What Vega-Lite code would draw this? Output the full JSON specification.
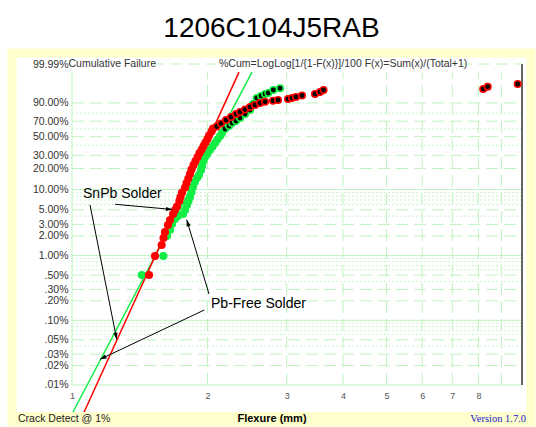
{
  "$schema": "https://vega.github.io/schema/vega-lite/v6.json",
  "width": 519,
  "height": 369,
  "autosize": {"type": "none"},
  "padding": {"left": 12, "top": 53, "right": 5, "bottom": 5},
  "background": "#ffffff",
  "config": {"view": {"fill": "#ffffff", "stroke": "#ffffcc", "strokeWidth": 9}, "font": "Liberation Sans"},
  "title": {"text": "1206C104J5RAB", "fontSize": 28, "fontWeight": "normal", "font": "Liberation Sans", "color": "#000000", "anchor": "middle", "frame": "group", "offset": 10},
  "datasets": {
    "band": [{"flexure": 0.7356, "flexure2": 10.47, "wy": -10.172, "wy2": -10.528}],
    "grid": [
      {"flexure": 1, "flexure2": 10, "wy": -2.2504, "wy2": -2.2504, "level": "decade"},
      {"flexure": 1, "flexure2": 10, "wy": -4.6002, "wy2": -4.6002, "level": "decade"},
      {"flexure": 1, "flexure2": 10, "wy": -6.9073, "wy2": -6.9073, "level": "decade"},
      {"flexure": 1, "flexure2": 10, "wy": -9.2103, "wy2": -9.2103, "level": "decade"},
      {"flexure": 1, "flexure2": 1, "wy": -9.2103, "wy2": 1.933, "level": "decade"},
      {"flexure": 1, "flexure2": 10, "wy": 0.834, "wy2": 0.834, "level": "major"},
      {"flexure": 1, "flexure2": 10, "wy": 0.1856, "wy2": 0.1856, "level": "major"},
      {"flexure": 1, "flexure2": 10, "wy": -0.3665, "wy2": -0.3665, "level": "major"},
      {"flexure": 1, "flexure2": 10, "wy": -1.0309, "wy2": -1.0309, "level": "major"},
      {"flexure": 1, "flexure2": 10, "wy": -1.4999, "wy2": -1.4999, "level": "major"},
      {"flexure": 1, "flexure2": 10, "wy": -2.9702, "wy2": -2.9702, "level": "major"},
      {"flexure": 1, "flexure2": 10, "wy": -3.4914, "wy2": -3.4914, "level": "major"},
      {"flexure": 1, "flexure2": 10, "wy": -3.9019, "wy2": -3.9019, "level": "major"},
      {"flexure": 1, "flexure2": 10, "wy": -5.2958, "wy2": -5.2958, "level": "major"},
      {"flexure": 1, "flexure2": 10, "wy": -5.8076, "wy2": -5.8076, "level": "major"},
      {"flexure": 1, "flexure2": 10, "wy": -6.2136, "wy2": -6.2136, "level": "major"},
      {"flexure": 1, "flexure2": 10, "wy": -7.6006, "wy2": -7.6006, "level": "major"},
      {"flexure": 1, "flexure2": 10, "wy": -8.1115, "wy2": -8.1115, "level": "major"},
      {"flexure": 1, "flexure2": 10, "wy": -8.5171, "wy2": -8.5171, "level": "major"},
      {"flexure": 1.506, "flexure2": 2.089, "wy": 2.2203, "wy2": 2.2203, "level": "major"},
      {"flexure": 7.28, "flexure2": 10, "wy": 2.2203, "wy2": 2.2203, "level": "major"},
      {"flexure": 2, "flexure2": 2, "wy": -9.2103, "wy2": 1.933, "level": "major"},
      {"flexure": 3, "flexure2": 3, "wy": -9.2103, "wy2": 1.933, "level": "major"},
      {"flexure": 4, "flexure2": 4, "wy": -9.2103, "wy2": 1.933, "level": "major"},
      {"flexure": 5, "flexure2": 5, "wy": -9.2103, "wy2": 1.933, "level": "major"},
      {"flexure": 6, "flexure2": 6, "wy": -9.2103, "wy2": 1.933, "level": "major"},
      {"flexure": 7, "flexure2": 7, "wy": -9.2103, "wy2": 1.933, "level": "major"},
      {"flexure": 8, "flexure2": 8, "wy": -9.2103, "wy2": 1.933, "level": "major"},
      {"flexure": 9, "flexure2": 9, "wy": -9.2103, "wy2": 1.933, "level": "major"},
      {"flexure": 1, "flexure2": 10, "wy": 0.4759, "wy2": 0.4759, "level": "minor"},
      {"flexure": 1, "flexure2": 10, "wy": -0.0874, "wy2": -0.0874, "level": "minor"},
      {"flexure": 1, "flexure2": 10, "wy": -0.6717, "wy2": -0.6717, "level": "minor"},
      {"flexure": 1, "flexure2": 10, "wy": -2.3612, "wy2": -2.3612, "level": "minor"},
      {"flexure": 1, "flexure2": 10, "wy": -2.4843, "wy2": -2.4843, "level": "minor"},
      {"flexure": 1, "flexure2": 10, "wy": -2.6232, "wy2": -2.6232, "level": "minor"},
      {"flexure": 1, "flexure2": 10, "wy": -2.7826, "wy2": -2.7826, "level": "minor"},
      {"flexure": 1, "flexure2": 10, "wy": -3.1985, "wy2": -3.1985, "level": "minor"},
      {"flexure": 1, "flexure2": 10, "wy": -4.706, "wy2": -4.706, "level": "minor"},
      {"flexure": 1, "flexure2": 10, "wy": -4.8244, "wy2": -4.8244, "level": "minor"},
      {"flexure": 1, "flexure2": 10, "wy": -4.9582, "wy2": -4.9582, "level": "minor"},
      {"flexure": 1, "flexure2": 10, "wy": -5.113, "wy2": -5.113, "level": "minor"},
      {"flexure": 1, "flexure2": 10, "wy": -5.5194, "wy2": -5.5194, "level": "minor"},
      {"flexure": 1, "flexure2": 10, "wy": -7.0127, "wy2": -7.0127, "level": "minor"},
      {"flexure": 1, "flexure2": 10, "wy": -7.1305, "wy2": -7.1305, "level": "minor"},
      {"flexure": 1, "flexure2": 10, "wy": -7.264, "wy2": -7.264, "level": "minor"},
      {"flexure": 1, "flexure2": 10, "wy": -7.4182, "wy2": -7.4182, "level": "minor"},
      {"flexure": 1, "flexure2": 10, "wy": -7.824, "wy2": -7.824, "level": "minor"}
    ],
    "fits": [
      {"solder": "Pb-Free", "flexure": 1.005, "wy": -10.172},
      {"solder": "Pb-Free", "flexure": 2.512, "wy": 1.933},
      {"solder": "SnPb", "flexure": 1.064, "wy": -10.172},
      {"solder": "SnPb", "flexure": 2.35, "wy": 1.933}
    ],
    "points": [
      {"solder": "Pb-Free", "phase": "main", "flexure": 1.429, "wy": -5.293},
      {"solder": "Pb-Free", "phase": "main", "flexure": 1.596, "wy": -4.616},
      {"solder": "Pb-Free", "phase": "main", "flexure": 1.626, "wy": -3.904},
      {"solder": "Pb-Free", "phase": "main", "flexure": 1.651, "wy": -3.69},
      {"solder": "Pb-Free", "phase": "main", "flexure": 1.668, "wy": -3.477},
      {"solder": "Pb-Free", "phase": "main", "flexure": 1.694, "wy": -3.299},
      {"solder": "Pb-Free", "phase": "main", "flexure": 1.72, "wy": -3.192},
      {"solder": "Pb-Free", "phase": "main", "flexure": 1.765, "wy": -3.121},
      {"solder": "Pb-Free", "phase": "main", "flexure": 1.783, "wy": -2.978},
      {"solder": "Pb-Free", "phase": "main", "flexure": 1.801, "wy": -2.8},
      {"solder": "Pb-Free", "phase": "main", "flexure": 1.815, "wy": -2.658},
      {"solder": "Pb-Free", "phase": "main", "flexure": 1.829, "wy": -2.515},
      {"solder": "Pb-Free", "phase": "main", "flexure": 1.843, "wy": -2.337},
      {"solder": "Pb-Free", "phase": "main", "flexure": 1.857, "wy": -2.159},
      {"solder": "Pb-Free", "phase": "main", "flexure": 1.876, "wy": -1.981},
      {"solder": "Pb-Free", "phase": "main", "flexure": 1.896, "wy": -1.839},
      {"solder": "Pb-Free", "phase": "main", "flexure": 1.915, "wy": -1.732},
      {"solder": "Pb-Free", "phase": "main", "flexure": 1.935, "wy": -1.554},
      {"solder": "Pb-Free", "phase": "main", "flexure": 1.945, "wy": -1.411},
      {"solder": "Pb-Free", "phase": "main", "flexure": 1.96, "wy": -1.233},
      {"solder": "Pb-Free", "phase": "main", "flexure": 1.975, "wy": -1.091},
      {"solder": "Pb-Free", "phase": "main", "flexure": 2.0, "wy": -0.984},
      {"solder": "Pb-Free", "phase": "main", "flexure": 2.026, "wy": -0.841},
      {"solder": "Pb-Free", "phase": "main", "flexure": 2.052, "wy": -0.717},
      {"solder": "Pb-Free", "phase": "main", "flexure": 2.079, "wy": -0.592},
      {"solder": "Pb-Free", "phase": "main", "flexure": 2.105, "wy": -0.467},
      {"solder": "Pb-Free", "phase": "main", "flexure": 2.133, "wy": -0.343},
      {"solder": "Pb-Free", "phase": "main", "flexure": 2.154, "wy": -0.236},
      {"solder": "Pb-Free", "phase": "late", "flexure": 2.188, "wy": -0.094},
      {"solder": "Pb-Free", "phase": "late", "flexure": 2.233, "wy": 0.013},
      {"solder": "Pb-Free", "phase": "late", "flexure": 2.268, "wy": 0.12},
      {"solder": "Pb-Free", "phase": "late", "flexure": 2.314, "wy": 0.191},
      {"solder": "Pb-Free", "phase": "late", "flexure": 2.362, "wy": 0.298},
      {"solder": "Pb-Free", "phase": "late", "flexure": 2.424, "wy": 0.441},
      {"solder": "Pb-Free", "phase": "late", "flexure": 2.486, "wy": 0.583},
      {"solder": "Pb-Free", "phase": "late", "flexure": 2.525, "wy": 0.797},
      {"solder": "Pb-Free", "phase": "late", "flexure": 2.573, "wy": 1.011},
      {"solder": "Pb-Free", "phase": "late", "flexure": 2.63, "wy": 1.082},
      {"solder": "Pb-Free", "phase": "late", "flexure": 2.685, "wy": 1.153},
      {"solder": "Pb-Free", "phase": "late", "flexure": 2.73, "wy": 1.189},
      {"solder": "Pb-Free", "phase": "late", "flexure": 2.801, "wy": 1.295},
      {"solder": "Pb-Free", "phase": "late", "flexure": 2.899, "wy": 1.356},
      {"solder": "SnPb", "phase": "main", "flexure": 1.483, "wy": -5.293},
      {"solder": "SnPb", "phase": "main", "flexure": 1.529, "wy": -4.616},
      {"solder": "SnPb", "phase": "main", "flexure": 1.582, "wy": -4.225},
      {"solder": "SnPb", "phase": "main", "flexure": 1.597, "wy": -3.975},
      {"solder": "SnPb", "phase": "main", "flexure": 1.609, "wy": -3.762},
      {"solder": "SnPb", "phase": "main", "flexure": 1.634, "wy": -3.512},
      {"solder": "SnPb", "phase": "main", "flexure": 1.651, "wy": -3.334},
      {"solder": "SnPb", "phase": "main", "flexure": 1.677, "wy": -3.121},
      {"solder": "SnPb", "phase": "main", "flexure": 1.694, "wy": -2.978},
      {"solder": "SnPb", "phase": "main", "flexure": 1.711, "wy": -2.854},
      {"solder": "SnPb", "phase": "main", "flexure": 1.732, "wy": -2.658},
      {"solder": "SnPb", "phase": "main", "flexure": 1.742, "wy": -2.515},
      {"solder": "SnPb", "phase": "main", "flexure": 1.756, "wy": -2.355},
      {"solder": "SnPb", "phase": "main", "flexure": 1.783, "wy": -2.177},
      {"solder": "SnPb", "phase": "main", "flexure": 1.797, "wy": -2.017},
      {"solder": "SnPb", "phase": "main", "flexure": 1.813, "wy": -1.856},
      {"solder": "SnPb", "phase": "main", "flexure": 1.829, "wy": -1.696},
      {"solder": "SnPb", "phase": "main", "flexure": 1.843, "wy": -1.536},
      {"solder": "SnPb", "phase": "main", "flexure": 1.862, "wy": -1.376},
      {"solder": "SnPb", "phase": "main", "flexure": 1.881, "wy": -1.233},
      {"solder": "SnPb", "phase": "main", "flexure": 1.901, "wy": -1.091},
      {"solder": "SnPb", "phase": "main", "flexure": 1.92, "wy": -0.948},
      {"solder": "SnPb", "phase": "main", "flexure": 1.942, "wy": -0.824},
      {"solder": "SnPb", "phase": "main", "flexure": 1.96, "wy": -0.699},
      {"solder": "SnPb", "phase": "main", "flexure": 1.98, "wy": -0.574},
      {"solder": "SnPb", "phase": "main", "flexure": 2.0, "wy": -0.45},
      {"solder": "SnPb", "phase": "main", "flexure": 2.016, "wy": -0.325},
      {"solder": "SnPb", "phase": "main", "flexure": 2.042, "wy": -0.183},
      {"solder": "SnPb", "phase": "main", "flexure": 2.057, "wy": -0.076},
      {"solder": "SnPb", "phase": "late", "flexure": 2.097, "wy": -0.005},
      {"solder": "SnPb", "phase": "late", "flexure": 2.143, "wy": 0.102},
      {"solder": "SnPb", "phase": "late", "flexure": 2.199, "wy": 0.227},
      {"solder": "SnPb", "phase": "late", "flexure": 2.256, "wy": 0.334},
      {"solder": "SnPb", "phase": "late", "flexure": 2.314, "wy": 0.441},
      {"solder": "SnPb", "phase": "late", "flexure": 2.362, "wy": 0.512},
      {"solder": "SnPb", "phase": "late", "flexure": 2.424, "wy": 0.601},
      {"solder": "SnPb", "phase": "late", "flexure": 2.486, "wy": 0.69},
      {"solder": "SnPb", "phase": "late", "flexure": 2.551, "wy": 0.761},
      {"solder": "SnPb", "phase": "late", "flexure": 2.617, "wy": 0.832},
      {"solder": "SnPb", "phase": "late", "flexure": 2.685, "wy": 0.879},
      {"solder": "SnPb", "phase": "late", "flexure": 2.797, "wy": 0.914},
      {"solder": "SnPb", "phase": "late", "flexure": 2.869, "wy": 0.939},
      {"solder": "SnPb", "phase": "late", "flexure": 3.02, "wy": 0.975},
      {"solder": "SnPb", "phase": "late", "flexure": 3.082, "wy": 1.011},
      {"solder": "SnPb", "phase": "late", "flexure": 3.146, "wy": 1.046},
      {"solder": "SnPb", "phase": "late", "flexure": 3.244, "wy": 1.1},
      {"solder": "SnPb", "phase": "late", "flexure": 3.467, "wy": 1.153},
      {"solder": "SnPb", "phase": "late", "flexure": 3.557, "wy": 1.224},
      {"solder": "SnPb", "phase": "late", "flexure": 3.622, "wy": 1.295},
      {"solder": "SnPb", "phase": "late", "flexure": 8.2, "wy": 1.331},
      {"solder": "SnPb", "phase": "late", "flexure": 8.39, "wy": 1.413},
      {"solder": "SnPb", "phase": "late", "flexure": 9.78, "wy": 1.509}
    ],
    "arrows": [
      {"id": "a1", "flexure": 1.257, "wy": -7.583, "flexure2": 1.0965, "wy2": -2.8},
      {"id": "a2", "flexure": 1.6724, "wy": -2.96, "flexure2": 1.2461, "wy2": -2.775},
      {"id": "a3", "flexure": 1.7984, "wy": -3.324, "flexure2": 2.0158, "wy2": -5.97},
      {"id": "a4", "flexure": 1.154, "wy": -8.295, "flexure2": 1.9679, "wy2": -6.539}
    ],
    "labels": [
      {"kind": "callout", "text": "SnPb Solder", "flexure": 1.0579, "wy": -2.408},
      {"kind": "callout", "text": "Pb-Free Solder", "flexure": 2.0364, "wy": -6.326},
      {"kind": "header", "text": "Cumulative Failure", "flexure": 0.982, "wy": 2.2203},
      {"kind": "header", "text": "%Cum=LogLog[1/{1-F(x)}]/100  F(x)=Sum(x)/(Total+1)", "flexure": 2.1216, "wy": 2.2203},
      {"kind": "footer", "text": "Crack Detect @ 1%", "flexure": 0.7586, "wy": -10.421},
      {"kind": "version", "text": "Version 1.7.0", "flexure": 10.207, "wy": -10.421}
    ]
  },
  "encoding": {
    "x": {
      "field": "flexure", "type": "quantitative",
      "scale": {"type": "log", "domain": [0.7356, 10.47], "nice": false},
      "axis": {"values": [1, 2, 3, 4, 5, 6, 7, 8], "format": "d", "title": "Flexure (mm)", "titleFontSize": 11, "titleFontWeight": "bold", "titleColor": "#000000", "titleFont": "Liberation Sans", "titlePadding": 12, "offset": -31, "domain": false, "ticks": false, "tickSize": 0, "grid": false, "labelPadding": 0, "labelFontSize": 9, "labelColor": "#555555", "labelFont": "Liberation Sans", "labelOverlap": false, "labelFlush": false, "zindex": 1}
    },
    "y": {
      "field": "wy", "type": "quantitative",
      "scale": {"type": "linear", "domain": [-10.528, 2.613], "nice": false, "zero": false},
      "axis": {"values": [2.2203, 0.834, 0.1856, -0.3665, -1.0309, -1.4999, -2.2504, -2.9702, -3.4914, -3.9019, -4.6002, -5.2958, -5.8076, -6.2136, -6.9073, -7.6006, -8.1115, -8.5171, -9.2103], "labelExpr": "(100*(1-exp(-exp(datum.value))) < 0.995 ? substring(format(100*(1-exp(-exp(datum.value))), '.2f'), 1) : format(100*(1-exp(-exp(datum.value))), '.2f')) + '%'", "title": null, "offset": -56, "domain": false, "ticks": false, "tickSize": 0, "grid": false, "labelPadding": 0, "labelFontSize": 10.5, "labelColor": "#333333", "labelFont": "Liberation Sans", "labelOverlap": false, "labelFlush": false, "labelBound": false, "zindex": 1}
    }
  },
  "layer": [
    {"data": {"name": "band"}, "mark": {"type": "rect", "color": "#ffffcc"}, "encoding": {"x2": {"field": "flexure2"}, "y2": {"field": "wy2"}}},
    {"data": {"name": "grid"}, "transform": [{"filter": "datum.level === 'decade'"}], "mark": {"type": "rule", "color": "#bff3bf", "strokeWidth": 1}, "encoding": {"x2": {"field": "flexure2"}, "y2": {"field": "wy2"}}},
    {"data": {"name": "grid"}, "transform": [{"filter": "datum.level === 'major'"}], "mark": {"type": "rule", "color": "#bff3bf", "strokeWidth": 1, "strokeDash": [12, 6]}, "encoding": {"x2": {"field": "flexure2"}, "y2": {"field": "wy2"}}},
    {"data": {"name": "grid"}, "transform": [{"filter": "datum.level === 'minor'"}], "mark": {"type": "rule", "color": "#c8f5c8", "strokeWidth": 1, "strokeDash": [2, 2]}, "encoding": {"x2": {"field": "flexure2"}, "y2": {"field": "wy2"}}},
    {"data": {"values": [{"flexure": 10, "flexure2": 10, "wy": -9.2103, "wy2": 2.2203}]}, "mark": {"type": "rule", "color": "#333333", "strokeWidth": 1.5}, "encoding": {"x2": {"field": "flexure2"}, "y2": {"field": "wy2"}}},
    {"data": {"name": "fits"}, "mark": {"type": "line", "strokeWidth": 1.5}, "encoding": {"color": {"field": "solder", "type": "nominal", "scale": {"domain": ["SnPb", "Pb-Free"], "range": ["#ff0000", "#11ee44"]}, "legend": null}}},
    {"data": {"name": "points"}, "transform": [{"filter": "datum.phase === 'main'"}], "mark": {"type": "circle", "size": 66, "opacity": 1}, "encoding": {"color": {"field": "solder", "type": "nominal", "scale": {"domain": ["SnPb", "Pb-Free"], "range": ["#ff0000", "#11ee44"]}, "legend": null}}},
    {"data": {"name": "points"}, "transform": [{"filter": "datum.phase === 'late'"}], "mark": {"type": "point", "shape": "circle", "size": 42, "fill": "#000000", "filled": false, "fillOpacity": 1, "opacity": 1, "strokeWidth": 1.6}, "encoding": {"stroke": {"field": "solder", "type": "nominal", "scale": {"domain": ["SnPb", "Pb-Free"], "range": ["#ff0000", "#11ee44"]}, "legend": null}}},
    {"data": {"name": "arrows"}, "mark": {"type": "rule", "color": "#000000", "strokeWidth": 1}, "encoding": {"x2": {"field": "flexure2"}, "y2": {"field": "wy2"}}},
    {"data": {"name": "arrows"}, "transform": [{"filter": "datum.id === 'a1'"}], "mark": {"type": "point", "shape": "M0,0L0.35,1.1L-0.35,1.1Z", "size": 144, "filled": true, "color": "#000000", "opacity": 1, "angle": 169}},
    {"data": {"name": "arrows"}, "transform": [{"filter": "datum.id === 'a2'"}], "mark": {"type": "point", "shape": "M0,0L0.35,1.1L-0.35,1.1Z", "size": 144, "filled": true, "color": "#000000", "opacity": 1, "angle": 94}},
    {"data": {"name": "arrows"}, "transform": [{"filter": "datum.id === 'a3'"}], "mark": {"type": "point", "shape": "M0,0L0.35,1.1L-0.35,1.1Z", "size": 144, "filled": true, "color": "#000000", "opacity": 1, "angle": 343}},
    {"data": {"name": "arrows"}, "transform": [{"filter": "datum.id === 'a4'"}], "mark": {"type": "point", "shape": "M0,0L0.35,1.1L-0.35,1.1Z", "size": 144, "filled": true, "color": "#000000", "opacity": 1, "angle": 245}},
    {"data": {"name": "labels"}, "transform": [{"filter": "datum.kind === 'callout'"}], "mark": {"type": "text", "align": "left", "baseline": "middle", "fontSize": 14, "font": "Liberation Sans", "color": "#000000"}, "encoding": {"text": {"field": "text"}}},
    {"data": {"name": "labels"}, "transform": [{"filter": "datum.kind === 'header'"}], "mark": {"type": "text", "align": "left", "baseline": "middle", "fontSize": 10.5, "font": "Liberation Sans", "color": "#333333"}, "encoding": {"text": {"field": "text"}}},
    {"data": {"name": "labels"}, "transform": [{"filter": "datum.kind === 'footer'"}], "mark": {"type": "text", "align": "left", "baseline": "middle", "fontSize": 10.5, "font": "Liberation Sans", "color": "#222222"}, "encoding": {"text": {"field": "text"}}},
    {"data": {"name": "labels"}, "transform": [{"filter": "datum.kind === 'version'"}], "mark": {"type": "text", "align": "right", "baseline": "middle", "fontSize": 10.5, "font": "Liberation Serif", "color": "#2020cc"}, "encoding": {"text": {"field": "text"}}}
  ]
}
